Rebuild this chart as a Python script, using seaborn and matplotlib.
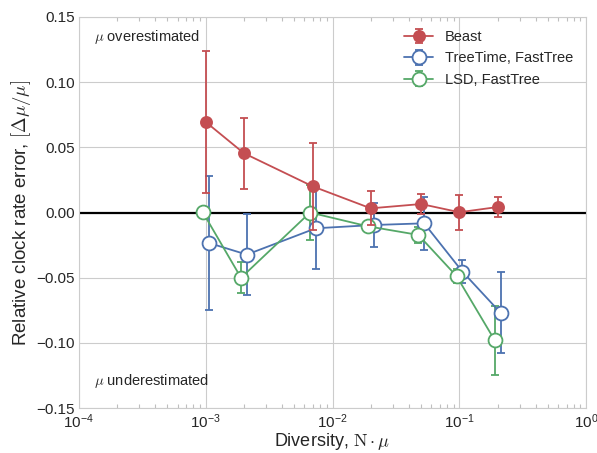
import numpy as np
import matplotlib
matplotlib.use("Agg")
import matplotlib.pyplot as plt
import seaborn as sns

# diversity values (N*mu) used for every method
diversity = [0.001, 0.002, 0.007, 0.02, 0.05, 0.1, 0.2]

# relative clock rate error and its spread
beast_err = [0.0695, 0.0455, 0.0200, 0.0032, 0.0065, 0.0002, 0.0042]
beast_std = [0.0547, 0.0272, 0.0333, 0.0130, 0.0080, 0.0133, 0.0074]

treetime_err = [-0.0233, -0.0323, -0.0121, -0.0096, -0.0083, -0.0453, -0.0769]
treetime_std = [0.0512, 0.0310, 0.0315, 0.0168, 0.0205, 0.0090, 0.0312]

lsd_err = [0.0002, -0.0501, 0.0000, -0.0106, -0.0172, -0.0488, -0.0981]
lsd_std = [0.0010, 0.0120, 0.0210, 0.0030, 0.0064, 0.0054, 0.0264]

labels = ['Beast', 'TreeTime, FastTree', 'LSD, FastTree']

sns.set_style('whitegrid')
plt.rcParams['font.family'] = ['Liberation Sans', 'DejaVu Sans']
plt.rcParams['mathtext.fontset'] = 'cm'

# old seaborn "deep" colours
colors = ['#C44E52', '#4C72B0', '#55A868']

fig = plt.figure(figsize=(5.97, 4.53), dpi=100)
ax = fig.add_axes([0.132, 0.0993, 0.85, 0.8632])

x = np.array(diversity)
ax.axhline(0, color='k', lw=1.6, zorder=1)

# small horizontal shift so the error bars don't overlap
ax.errorbar(x, beast_err, yerr=beast_std, color=colors[0], marker='o', ms=8,
            lw=1.3, capsize=3, elinewidth=1.3, mew=1.3, label=labels[0], zorder=4)
ax.errorbar(x * 1.055, treetime_err, yerr=treetime_std, color=colors[1], marker='o',
            ms=10, mfc='w', mec=colors[1], mew=1.3, lw=1.3, capsize=3,
            elinewidth=1.3, label=labels[1], zorder=3)
ax.errorbar(x * 0.95, lsd_err, yerr=lsd_std, color=colors[2], marker='o',
            ms=10, mfc='w', mec=colors[2], mew=1.3, lw=1.3, capsize=3,
            elinewidth=1.3, label=labels[2], zorder=3)

ax.set_xscale('log')
ax.set_xlim(1e-4, 1)
ax.set_ylim(-0.15, 0.15)
ax.set_yticks(np.arange(-0.15, 0.151, 0.05))
ax.yaxis.set_major_formatter(matplotlib.ticker.FuncFormatter(
    lambda v, pos: ('%.2f' % v).replace('-', '\u2212')))
ax.tick_params(axis='both', which='major', labelsize=11, length=0)
ax.tick_params(axis='x', which='major', pad=3)
ax.tick_params(axis='y', which='major', pad=3)
ax.tick_params(axis='x', which='minor', direction='in', top=True, bottom=True,
               length=3, width=0.8, color='.75')

ax.set_xlabel(r'Diversity, $\mathrm{N}\cdot\mu$', fontsize=13, labelpad=0)
ax.set_ylabel(r'Relative clock rate error, $[\Delta \mu / \mu]$', fontsize=13.5,
              labelpad=2)

ax.text(0.03, 0.95, r'$\mu$ overestimated', transform=ax.transAxes, fontsize=10.5,
        va='center', ha='left')
ax.text(0.03, 0.07, r'$\mu$ underestimated', transform=ax.transAxes, fontsize=10.5,
        va='center', ha='left')

ax.legend(loc='upper right', fontsize=10.5, frameon=False, handlelength=2.0,
          borderaxespad=0.5, labelspacing=0.5, handletextpad=0.8)

plt.savefig('out.png', dpi=100)
